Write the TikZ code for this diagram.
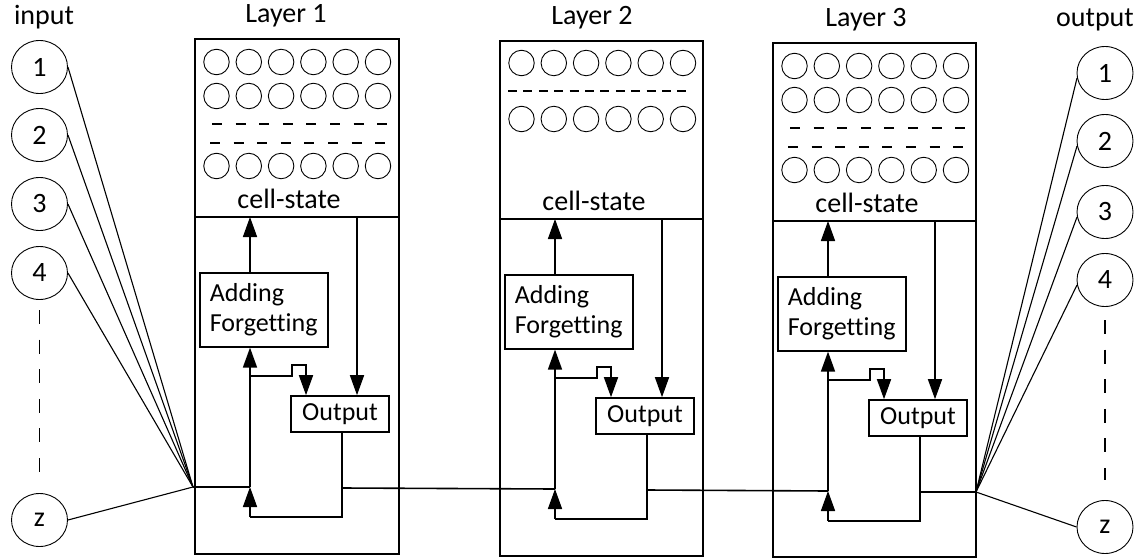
\documentclass[tikz,border=0pt]{standalone}
\usepackage{fontspec}
\setmainfont{Carlito}[Ligatures=NoCommon]
\usetikzlibrary{arrows.meta,shapes.geometric,calc}
\tikzset{
  lbl/.style={font=\fontsize{28}{32}\selectfont, inner sep=0pt, anchor=base},
  io/.style={draw, ellipse, minimum width=56pt, minimum height=53pt, inner sep=0pt, line width=0.9pt, font=\fontsize{28}{30}\selectfont},
  frame/.style={draw, line width=1.6pt, anchor=north west, inner sep=0pt},
  addbox/.style={draw, line width=1.6pt, minimum width=128pt, minimum height=74pt, anchor=north west, align=left, text width=108pt, inner xsep=10pt, inner ysep=0pt, font=\fontsize{26}{30}\selectfont},
  outbox/.style={draw, line width=1.6pt, minimum width=98pt, minimum height=36pt, inner sep=0pt, font=\fontsize{26}{30}\selectfont},
  neuron/.style={draw, circle, minimum size=25.5pt, inner sep=0pt, line width=0.9pt},
  wire/.style={line width=1.6pt},
  arr/.style={wire, -{Triangle[length=20pt,width=14pt]}},
  fan/.style={line width=1.1pt},
  sepdash/.style={line width=1.4pt, dash pattern=on 10pt off 13.6pt},
  sepdashb/.style={line width=1.4pt, dash pattern=on 9pt off 6.4pt},
  gapdash/.style={line width=1.2pt, dash pattern=on 14pt off 15.6pt},
}
\begin{document}
\begin{tikzpicture}[x=1pt,y=-1pt]
\useasboundingbox (0,0) rectangle (1142,559);

% input / output labels
\node[lbl] (inlbl) at (44,25) {input};
\node[lbl] (outlbl) at (1095,27) {output};

% input neurons
\node[io] (in1) at (39.5,67) {1};
\node[io] (in2) at (39.5,135) {2};
\node[io] (in3) at (39.5,204) {3};
\node[io] (in4) at (39.5,273) {4};
\node[io] (inz) at (39.5,520) {z};
\draw[gapdash] (39.5,310) -- (39.5,472);

% output neurons
\node[io] (oc1) at (1105,73) {1};
\node[io] (oc2) at (1105,141) {2};
\node[io] (oc3) at (1105,212) {3};
\node[io] (oc4) at (1105,280) {4};
\node[io] (ocz) at (1105,527) {z};
\draw[gapdash] (1105,320) -- (1105,480);

% layers
\foreach \i/\L/\T/\W/\H/\lx/\ly in {1/194/38/204/515/286/23, 2/499/40/203/515/592/25, 3/772/42/203/514/866/27} {
  \node[lbl] (lay\i) at (\lx,\ly) {Layer \i};
  \node[frame, minimum width=\W pt, minimum height=\H pt] (box\i) at (\L,\T) {};
  \coordinate (dl\i) at (\L,{\T+179});
  \coordinate (dr\i) at ({\L+\W},{\T+179});
  \draw[wire] (dl\i) -- (dr\i);
  \node[lbl] (cs\i) at ({\L+95},{\T+170}) {cell-state};
  \node[addbox] (add\i) at ({\L+5},{\T+234}) {Adding\\Forgetting};
  \node[outbox] (outb\i) at ({\L+146},{\T+376}) {Output};
  \coordinate (m\i) at ({\L+56},{\T+449});
  \coordinate (bl\i) at ({\L+56},{\T+479});
  \coordinate (ob\i) at ({\L+148},{\T+479});
  \coordinate (o\i) at ({\L+148},{\T+450});
  \coordinate (rv\i) at ({\L+163},{\T+179});
  \coordinate (hp\i) at ({\L+112},{\T+327});
  % adding -> cell state
  \draw[arr] (add\i.north -| m\i) -- (dl\i -| m\i);
  % cell state -> output
  \draw[arr] (rv\i) -- (rv\i |- outb\i.north);
  % hop into output
  \draw[arr] ({\L+56},{\T+338}) -- ({\L+98},{\T+338}) -- ({\L+98},{\T+327}) -- (hp\i) -- (hp\i |- outb\i.north);
  % main vertical
  \draw[arr] (bl\i) -- (m\i);
  \draw[arr] (m\i) -- (m\i |- add\i.south);
  % output feedback loop
  \draw[wire] (ob\i |- outb\i.south) -- (ob\i) -- (bl\i);
}

% cell-state neurons, layers 1 and 3
\foreach \i/\L/\T in {1/194/38, 3/772/42} {
  \foreach \r/\ry in {1/24, 2/58, 3/128} {
    \foreach \c in {0,...,5} {
      \node[neuron] (n\i-\r-\c) at ({\L+22.5+32.3*\c},{\T+\ry}) {};
    }
  }
  \draw[sepdash] ({\L+18},{\T+86}) -- ({\L+193},{\T+86});
  \draw[sepdash] ({\L+16},{\T+105}) -- ({\L+191},{\T+105});
}
% cell-state neurons, layer 2
\foreach \r/\ry in {1/23, 2/79} {
  \foreach \c in {0,...,5} {
    \node[neuron] (n2-\r-\c) at ({499+22.5+32.3*\c},{40+\ry}) {};
  }
}
\draw[sepdashb] (508,91) -- (691,91);

% connections between stages
\coordinate (cin) at (193,487);
\coordinate (cout) at (976,492);
\foreach \n in {in1,in2,in3,in4,inz} {
  \draw[fan] (\n.east) -- (cin);
}
\foreach \n in {oc1,oc2,oc3,oc4} {
  \draw[fan] (cout) -- (\n.190);
}
\draw[fan] (cout) -- (ocz.west);
\draw[wire] (cin) -- (m1);
\draw[wire] (o1) -- (m2);
\draw[wire] (o2) -- (m3);
\draw[wire] (o3) -- (cout);
\end{tikzpicture}
\end{document}
